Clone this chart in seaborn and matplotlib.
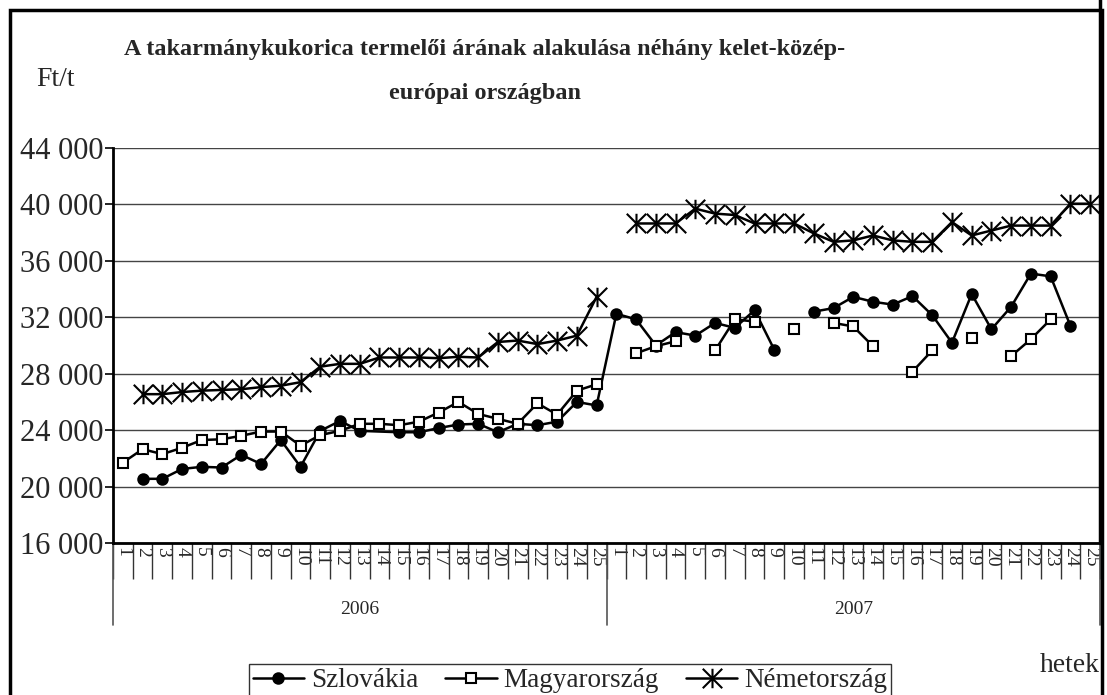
import numpy as np
import pandas as pd
import seaborn as sns
import matplotlib.pyplot as plt
from matplotlib.path import Path
from matplotlib.lines import Line2D
from matplotlib.patches import Rectangle

nan = np.nan

# hetek (weeks) of the two years
years = ['2006', '2007']
weeks = list(range(1, 26))

szlovakia_2006 = [nan, 20550, 20550, 21250, 21400, 21350, 22250, 21600, 23300, 21400,
                  23950, 24650, 23950, nan, 23850, 23850, 24150, 24400, 24450, 23850,
                  24450, 24350, 24600, 26000, 25750]
szlovakia_2007 = [32250, 31850, 30000, 30950, 30700, 31600, 31250, 32500, 29700, nan,
                  32400, 32650, 33450, 33100, 32900, 33500, 32150, 30200, 33650, 31150,
                  32750, 35100, 34900, 31400, nan]

magyar_2006 = [21700, 22650, 22300, 22750, 23300, 23350, 23600, 23900, 23900, 22900,
               23650, 23950, 24450, 24450, 24350, 24600, 25250, 26000, 25150, 24800,
               24450, 25900, 25100, 26800, 27250]
magyar_2007 = [nan, 29450, 29950, 30300, nan, 29650, 31850, 31700, nan, 31200,
               nan, 31600, 31350, 29950, nan, 28150, 29650, nan, 30500, nan,
               29250, 30450, 31850, nan, nan]

nemet_2006 = [nan, 26550, 26550, 26700, 26800, 26850, 26900, 27050, 27150, 27400,
              28500, 28700, 28700, 29150, 29150, 29150, 29100, 29200, 29150, 30250,
              30350, 30100, 30350, 30700, 33450]
nemet_2007 = [nan, 38650, 38650, 38650, 39700, 39350, 39250, 38650, 38650, 38650,
              37950, 37350, 37450, 37800, 37450, 37350, 37350, 38750, 37800, 38150,
              38500, 38500, 38500, 40050, 40050]

y_ticks = list(range(16000, 44001, 4000))

sns.set_theme(style='white')
plt.rcParams['font.family'] = ['Liberation Serif', 'DejaVu Serif']

# asterisk marker like Excel's
ast = Path([(0, -1), (0, 1), (-1, -1), (1, 1), (-1, 1), (1, -1)],
           [Path.MOVETO, Path.LINETO, Path.MOVETO, Path.LINETO, Path.MOVETO, Path.LINETO])

series = [
    ('Szlovákia', szlovakia_2006 + szlovakia_2007, dict(marker='o', markersize=7.5,
                                                         markerfacecolor='black'), [13]),
    ('Magyarország', magyar_2006 + magyar_2007, dict(marker='s', markersize=6.5,
                                                      markerfacecolor='white'), []),
    ('Németország', nemet_2006 + nemet_2007, dict(marker=ast, markersize=14,
                                                   markerfacecolor='none'), []),
]


def runs(vals, bridge):
    # contiguous pieces of the series; gaps are not joined except the bridged ones
    idx = [i for i, v in enumerate(vals) if not np.isnan(v)]
    out, cur = [], []
    for i in idx:
        if cur and i - cur[-1] > 1 and not all(j in bridge for j in range(cur[-1] + 1, i)):
            out.append(cur)
            cur = []
        cur.append(i)
    out.append(cur)
    return out


fig = plt.figure(figsize=(11.07, 6.95), dpi=100)
ax = fig.add_axes([113 / 1107, 1 - 543 / 695, 987 / 1107, 395 / 695])

handles = []
for name, vals, style, bridge in series:
    for r in runs(vals, bridge):
        df = pd.DataFrame({'x': r, 'y': [vals[i] for i in r]})
        sns.lineplot(data=df, x='x', y='y', ax=ax, color='black', linewidth=1.8,
                     markeredgecolor='black', markeredgewidth=1.5, legend=False,
                     estimator=None, sort=False, **style)
    handles.append(Line2D([], [], color='black', linewidth=1.8, markeredgecolor='black',
                          markeredgewidth=1.5, label=name, **style))

ax.set_xlim(-0.5, 49.5)
ax.set_ylim(16000, 44000)
ax.set_yticks(y_ticks)
ax.set_yticklabels([f'{v:,}'.replace(',', ' ') for v in y_ticks], fontsize=22)
ax.yaxis.grid(True, color='#444444', linewidth=1)
ax.set_axisbelow(True)
ax.tick_params(axis='y', direction='out', length=6, width=1.2, color='black', pad=1, left=True)

ax.set_xticks(range(50))
ax.set_xticklabels([str(w) for w in weeks] * 2, rotation=-90, fontsize=14)
ax.set_xticks(np.arange(-0.5, 50, 1), minor=True)
ax.tick_params(axis='x', which='major', length=0, pad=3)
ax.tick_params(axis='x', which='minor', direction='out', length=26, width=1,
               color='#333333', bottom=True)
ax.set_xlabel('')
ax.set_ylabel('')

for s in ['top', 'right']:
    ax.spines[s].set_visible(False)
for s in ['left', 'bottom']:
    ax.spines[s].set_color('black')
    ax.spines[s].set_linewidth(2)

trans = ax.get_xaxis_transform()
for xb in [-0.5, 24.5, 49.5]:
    ax.add_line(Line2D([xb, xb], [0, -82 / 395], transform=trans, color='#555555',
                       linewidth=1.2, clip_on=False))
for k, yr in enumerate(years):
    ax.text(12 + 25 * k, -67 / 395, yr, transform=trans, ha='center', va='center', fontsize=14)

# right border of the chart area
ax.add_line(Line2D([1, 1], [0, 1.4], transform=ax.transAxes, color='black',
                   linewidth=2.5, clip_on=False))

fig.text(485 / 1107, 1 - 49 / 695, 'A takarmánykukorica termelői árának alakulása néhány kelet-közép-',
         ha='center', va='center', fontsize=17.5, fontweight='bold')
fig.text(485 / 1107, 1 - 93 / 695, 'európai országban', ha='center', va='center',
         fontsize=17.5, fontweight='bold')
fig.text(55 / 1107, 1 - 80 / 695, 'Ft/t', ha='center', va='center', fontsize=20)
fig.text(1070 / 1107, 1 - 666 / 695, 'hetek', ha='center', va='center', fontsize=20)

leg = fig.legend(handles=handles, loc='upper center', bbox_to_anchor=(570 / 1107, 1 - 664 / 695),
                 ncol=3, fontsize=19.5, frameon=True, fancybox=False, edgecolor='black',
                 handlelength=1.9, handletextpad=0.25, columnspacing=1.0, borderpad=0.15,
                 borderaxespad=0)
leg.get_frame().set_linewidth(1)

fig.patches.append(Rectangle((10 / 1107, -0.05), 1092 / 1107, 1.05 - 10 / 695,
                             transform=fig.transFigure, fill=False, edgecolor='black',
                             linewidth=2.5))

fig.savefig('out.png', dpi=100)
